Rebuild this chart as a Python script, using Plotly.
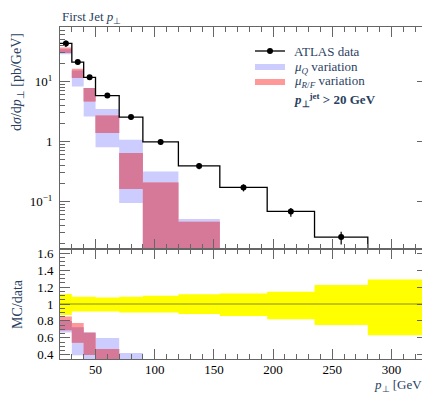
import plotly.graph_objects as go

# ---------------- data ----------------
bin_edges = [20, 30, 40, 50, 70, 90, 120, 155, 195, 235, 280, 330]
data_vals = [43.0, 21.0, 11.7, 5.8, 2.55, 0.98, 0.39, 0.171, 0.068, 0.0255, 0.011]
data_relerr_up = [0.118, 0.086, 0.086, 0.078, 0.086, 0.098, 0.114, 0.125, 0.145, 0.224, 0.29]
data_relerr_dn = [0.129, 0.090, 0.090, 0.090, 0.100, 0.100, 0.118, 0.141, 0.180, 0.247, 0.37]

muQ_lo = [28.5, 8.26, 2.61, 0.80, 0.094, 0.006, 0.003, None, None, None, None]
muQ_hi = [34.4, 15.2, 7.80, 3.47, 1.07, 0.316, 0.051, None, None, None, None]
muRF_lo = [29.7, 11.4, 4.64, 1.38, 0.161, 0.009, 0.004, None, None, None, None]
muRF_hi = [36.7, 16.3, 7.74, 2.71, 0.64, 0.207, 0.046, None, None, None, None]

main_yticks = [0.1, 1, 10]
main_yticktext = ["10<sup>\u22121</sup>", "1", "10<sup>1</sup>"]
ratio_yticks = [0.4, 0.6, 0.8, 1.0, 1.2, 1.4, 1.6]
ratio_yticktext = ["0.4", "0.6", "0.8", "1", "1.2", "1.4", "1.6"]
x_ticks = [50, 100, 150, 200, 250, 300]

# ---------------- styles ----------------
FONT = "Liberation Serif"
BLUE = "rgb(204,204,255)"
RED = "rgb(255,153,153)"
OVER = "rgb(214,120,152)"
YELLOW = "rgb(255,255,0)"
AXC = "#666666"

n = len(data_vals)
centers = [(bin_edges[i] + bin_edges[i + 1]) / 2 for i in range(n)]


def rect_path(lo, hi):
    xs, ys = [], []
    for i in range(n):
        a, b = lo[i], hi[i]
        if a is None or b is None or not (b > a):
            continue
        x0, x1 = bin_edges[i], bin_edges[i + 1]
        xs += [x0, x1, x1, x0, x0, None]
        ys += [a, a, b, b, a, None]
    return xs, ys


def overlap(lo1, hi1, lo2, hi2):
    lo, hi = [], []
    for a1, b1, a2, b2 in zip(lo1, hi1, lo2, hi2):
        if None in (a1, b1, a2, b2):
            lo.append(None); hi.append(None)
        else:
            lo.append(max(a1, a2)); hi.append(min(b1, b2))
    return lo, hi


def ratio(arr):
    return [None if v is None else v / d for v, d in zip(arr, data_vals)]


fig = go.Figure()

# main panel bands
for lo, hi, col in [(muQ_lo, muQ_hi, BLUE), (muRF_lo, muRF_hi, RED)]:
    xs, ys = rect_path(lo, hi)
    fig.add_trace(go.Scatter(x=xs, y=ys, fill="toself", fillcolor=col, mode="none",
                             xaxis="x", yaxis="y", hoverinfo="skip", showlegend=False))
olo, ohi = overlap(muQ_lo, muQ_hi, muRF_lo, muRF_hi)
xs, ys = rect_path(olo, ohi)
fig.add_trace(go.Scatter(x=xs, y=ys, fill="toself", fillcolor=OVER, mode="none",
                         xaxis="x", yaxis="y", hoverinfo="skip", showlegend=False))

# data step line + points
fig.add_trace(go.Scatter(x=bin_edges, y=data_vals + [data_vals[-1]], mode="lines",
                         line=dict(color="black", width=1.3, shape="hv"),
                         xaxis="x", yaxis="y", showlegend=False))
fig.add_trace(go.Scatter(x=centers, y=data_vals, mode="markers",
                         marker=dict(color="black", size=6),
                         error_y=dict(type="data", symmetric=False,
                                      array=[v * e for v, e in zip(data_vals, data_relerr_up)],
                                      arrayminus=[v * e for v, e in zip(data_vals, data_relerr_dn)],
                                      color="black", thickness=1.2, width=0),
                         xaxis="x", yaxis="y", showlegend=False))

# ratio panel: yellow data uncertainty
ylo = [1 - e for e in data_relerr_dn]
yhi = [1 + e for e in data_relerr_up]
xs, ys = rect_path(ylo, yhi)
fig.add_trace(go.Scatter(x=xs, y=ys, fill="toself", fillcolor=YELLOW, mode="none",
                         xaxis="x2", yaxis="y2", hoverinfo="skip", showlegend=False))
ones = [v / v for v in data_vals]
fig.add_trace(go.Scatter(x=bin_edges, y=ones + [ones[-1]], mode="lines",
                         line=dict(color="rgba(60,60,0,0.6)", width=1, shape="hv"),
                         xaxis="x2", yaxis="y2", showlegend=False))
# ratio MC bands
rQlo, rQhi, rRlo, rRhi = ratio(muQ_lo), ratio(muQ_hi), ratio(muRF_lo), ratio(muRF_hi)
for lo, hi, col in [(rQlo, rQhi, BLUE), (rRlo, rRhi, RED)]:
    xs, ys = rect_path(lo, hi)
    fig.add_trace(go.Scatter(x=xs, y=ys, fill="toself", fillcolor=col, mode="none",
                             xaxis="x2", yaxis="y2", hoverinfo="skip", showlegend=False))
rolo, rohi = overlap(rQlo, rQhi, rRlo, rRhi)
xs, ys = rect_path(rolo, rohi)
fig.add_trace(go.Scatter(x=xs, y=ys, fill="toself", fillcolor=OVER, mode="none",
                         xaxis="x2", yaxis="y2", hoverinfo="skip", showlegend=False))

# ---------------- layout ----------------
# the page body adds an 8px offset; lay out in screen pixels
OFF = 8
SW, SH = 430, 394
PLOT_L, PLOT_T, PLOT_R, PLOT_B = 60, 27, 427, 359
W, H = SW - OFF, SH - OFF
ML, MT = PLOT_L - OFF, PLOT_T - OFF
MR, MB = SW - PLOT_R, SH - PLOT_B
PH = PLOT_B - PLOT_T
PW = PLOT_R - PLOT_L
RATIO_FRAC = 110 / PH


def px_x(px):
    return (px - PLOT_L) / PW


def px_y(py):
    return (PLOT_B - py) / PH


minor_log = [m * 10 ** k for k in range(-2, 2) for m in range(2, 10)]
tickfont = dict(family=FONT, size=13, color="black")
common = dict(showline=True, linecolor=AXC, linewidth=1, mirror="ticks", ticks="inside",
              tickcolor=AXC, tickwidth=1, showgrid=False, zeroline=False, tickfont=tickfont)

fig.update_layout(
    width=W, height=H, margin=dict(l=ML, r=MR, t=MT, b=MB, autoexpand=False),
    paper_bgcolor="white", plot_bgcolor="white", showlegend=False,
    xaxis=dict(domain=[0, 1], anchor="y", range=[20, 330], tickvals=x_ticks, ticklen=10,
               showticklabels=False,
               minor=dict(dtick=10, tick0=0, ticklen=5, ticks="inside", tickcolor=AXC), **common),
    yaxis=dict(domain=[RATIO_FRAC, 1], anchor="x", type="log", range=[-1.793, 1.907],
               tickvals=main_yticks, ticktext=main_yticktext, ticklen=10, ticklabelstandoff=4,
               minor=dict(tickmode="array", tickvals=minor_log, ticklen=5, ticks="inside",
                          tickcolor=AXC), **common),
    xaxis2=dict(domain=[0, 1], anchor="y2", matches="x", range=[20, 330], tickvals=x_ticks,
                ticklen=10, ticklabelstandoff=-2,
                minor=dict(dtick=10, tick0=0, ticklen=5, ticks="inside", tickcolor=AXC), **common),
    yaxis2=dict(domain=[0, RATIO_FRAC], anchor="x2", range=[0.35, 1.65], tickvals=ratio_yticks,
                ticktext=ratio_yticktext, ticklen=10, ticklabelstandoff=3,
                minor=dict(dtick=0.05, tick0=0, ticklen=5, ticks="inside", tickcolor=AXC), **common),
)

ann = []
ann.append(dict(text="First Jet <i>p</i><sub>\u22a5</sub>", x=0, y=px_y(17), xref="paper", yref="paper",
                xanchor="left", yanchor="middle", showarrow=False, font=dict(family=FONT, size=13)))
ann.append(dict(text="d<i>\u03c3</i>/d<i>p</i><sub>\u22a5</sub> [pb/GeV]", x=px_x(18), y=px_y(82),
                xref="paper", yref="paper", xanchor="center", yanchor="middle", textangle=-90,
                showarrow=False, font=dict(family=FONT, size=14)))
ann.append(dict(text="MC/data", x=px_x(17), y=px_y(304), xref="paper", yref="paper",
                xanchor="center", yanchor="middle", textangle=-90, showarrow=False,
                font=dict(family=FONT, size=14)))
ann.append(dict(text="<i>p</i><sub>\u22a5</sub> [GeV]", x=px_x(428), y=px_y(385), xref="paper",
                yref="paper", xanchor="right", yanchor="middle", showarrow=False,
                font=dict(family=FONT, size=13)))

# legend (custom)
leg_rows = [51, 67, 82, 100]
ann.append(dict(text="ATLAS data", x=px_x(292), y=px_y(leg_rows[0]), xref="paper", yref="paper",
                xanchor="left", yanchor="middle", showarrow=False, font=dict(family=FONT, size=13)))
ann.append(dict(text="<i>\u03bc</i><sub><i>Q</i></sub> variation", x=px_x(292), y=px_y(leg_rows[1]),
                xref="paper", yref="paper", xanchor="left", yanchor="middle", showarrow=False,
                font=dict(family=FONT, size=13)))
ann.append(dict(text="<i>\u03bc</i><sub><i>R</i>/<i>F</i></sub> variation", x=px_x(292), y=px_y(leg_rows[2]),
                xref="paper", yref="paper", xanchor="left", yanchor="middle", showarrow=False,
                font=dict(family=FONT, size=13)))
ann.append(dict(text="<b><i>p</i><sub>\u22a5</sub><sup>jet</sup> &gt; 20 GeV</b>", x=px_x(292),
                y=px_y(leg_rows[3]), xref="paper", yref="paper", xanchor="left", yanchor="middle",
                showarrow=False, font=dict(family=FONT, size=13)))
fig.update_layout(annotations=ann)

shapes = [
    dict(type="line", xref="paper", yref="paper", x0=px_x(255), x1=px_x(285), y0=px_y(leg_rows[0]),
         y1=px_y(leg_rows[0]), line=dict(color="black", width=1.3)),
    dict(type="circle", xref="paper", yref="paper", x0=px_x(267), x1=px_x(273),
         y0=px_y(leg_rows[0] + 3), y1=px_y(leg_rows[0] - 3), fillcolor="black", line=dict(width=0)),
    dict(type="rect", xref="paper", yref="paper", x0=px_x(255), x1=px_x(285), y0=px_y(leg_rows[1] + 3),
         y1=px_y(leg_rows[1] - 3), fillcolor=BLUE, line=dict(width=0)),
    dict(type="rect", xref="paper", yref="paper", x0=px_x(255), x1=px_x(285), y0=px_y(leg_rows[2] + 3),
         y1=px_y(leg_rows[2] - 3), fillcolor=RED, line=dict(width=0)),
]
fig.update_layout(shapes=shapes)

fig.write_html("out.html")
